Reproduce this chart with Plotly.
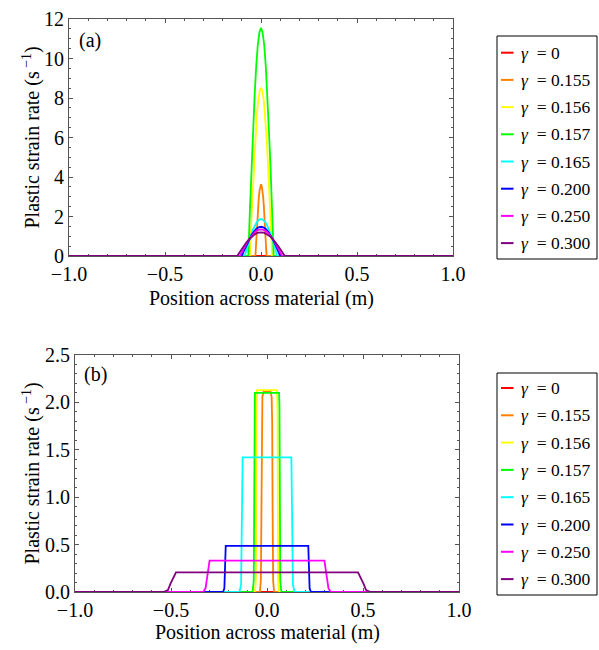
import plotly.graph_objects as go

W, H = 599, 650

# ---------------- data ----------------
gamma_labels = ["0", "0.155", "0.156", "0.157", "0.165", "0.200", "0.250", "0.300"]
colors = ["#ff0000", "#ff8000", "#ffff00", "#00ff00", "#00ffff", "#0000ff", "#ff00ff", "#800080"]

# panel (a)
a_x_000 = [-1.0, 1.0]
a_y_000 = [0.0, 0.0]
a_x_155 = [-1.0, -0.029, -0.025, -0.022, -0.018, -0.0145, -0.011, -0.007, -0.0036, 0.0,
           0.0036, 0.007, 0.011, 0.0145, 0.018, 0.022, 0.025, 0.029, 1.0]
a_y_155 = [0, 0, 0.71, 1.39, 2.02, 2.57, 3.02, 3.35, 3.56, 3.63,
           3.56, 3.35, 3.02, 2.57, 2.02, 1.39, 0.71, 0, 0]
a_x_156 = [-1.0, -0.058, -0.051, -0.0435, -0.036, -0.029, -0.022, -0.0145, -0.007, 0.0,
           0.007, 0.0145, 0.022, 0.029, 0.036, 0.0435, 0.051, 0.058, 1.0]
a_y_156 = [0, 0, 1.66, 3.26, 4.74, 6.02, 7.08, 7.87, 8.36, 8.52,
           8.36, 7.87, 7.08, 6.02, 4.74, 3.26, 1.66, 0, 0]
a_x_157 = [-1.0, -0.066, -0.058, -0.050, -0.041, -0.033, -0.025, -0.017, -0.008, 0.0,
           0.008, 0.017, 0.025, 0.033, 0.041, 0.050, 0.058, 0.066, 1.0]
a_y_157 = [0, 0, 2.25, 4.42, 6.42, 8.17, 9.60, 10.67, 11.33, 11.55,
           11.33, 10.67, 9.60, 8.17, 6.42, 4.42, 2.25, 0, 0]
a_x_165 = [-1.0, -0.085, -0.074, -0.064, -0.053, -0.0425, -0.032, -0.021, -0.011, 0.0,
           0.011, 0.021, 0.032, 0.0425, 0.053, 0.064, 0.074, 0.085, 1.0]
a_y_165 = [0, 0, 0.36, 0.72, 1.04, 1.32, 1.55, 1.73, 1.83, 1.87,
           1.83, 1.73, 1.55, 1.32, 1.04, 0.72, 0.36, 0, 0]
a_x_200 = [-1.0, -0.10, -0.0875, -0.075, -0.0625, -0.05, -0.0375, -0.025, -0.0125, 0.0,
           0.0125, 0.025, 0.0375, 0.05, 0.0625, 0.075, 0.0875, 0.10, 1.0]
a_y_200 = [0, 0, 0.29, 0.57, 0.82, 1.05, 1.23, 1.37, 1.45, 1.48,
           1.45, 1.37, 1.23, 1.05, 0.82, 0.57, 0.29, 0, 0]
a_x_250 = [-1.0, -0.11, -0.096, -0.0825, -0.069, -0.055, -0.041, -0.0275, -0.014, 0.0,
           0.014, 0.0275, 0.041, 0.055, 0.069, 0.0825, 0.096, 0.11, 1.0]
a_y_250 = [0, 0, 0.26, 0.52, 0.75, 0.95, 1.12, 1.25, 1.32, 1.35,
           1.32, 1.25, 1.12, 0.95, 0.75, 0.52, 0.26, 0, 0]
a_x_300 = [-1.0, -0.124, -0.1085, -0.093, -0.0775, -0.062, -0.0465, -0.031, -0.0155, 0.0,
           0.0155, 0.031, 0.0465, 0.062, 0.0775, 0.093, 0.1085, 0.124, 1.0]
a_y_300 = [0, 0, 0.23, 0.46, 0.67, 0.85, 1.00, 1.11, 1.18, 1.20,
           1.18, 1.11, 1.00, 0.85, 0.67, 0.46, 0.23, 0, 0]

# panel (b)
b_x_000 = [-1.0, 1.0]
b_y_000 = [0.0, 0.0]
b_x_155 = [-1.0, -0.037, -0.032, -0.029, -0.027, -0.024, -0.018, 0.0,
           0.018, 0.024, 0.027, 0.029, 0.032, 0.037, 1.0]
b_y_155 = [0, 0, 0.12, 0.9, 1.8, 2.06, 2.11, 2.11,
           2.11, 2.06, 1.8, 0.9, 0.12, 0, 0]
b_x_156 = [-1.0, -0.063, -0.058, -0.055, -0.052, 0.052, 0.055, 0.058, 0.063, 1.0]
b_y_156 = [0, 0, 0.12, 1.9, 2.13, 2.13, 1.9, 0.12, 0, 0]
b_x_157 = [-1.0, -0.075, -0.069, -0.065, -0.063, 0.063, 0.065, 0.069, 0.075, 1.0]
b_y_157 = [0, 0, 0.12, 1.95, 2.10, 2.10, 1.95, 0.12, 0, 0]
b_x_165 = [-1.0, -0.143, -0.135, -0.127, 0.127, 0.135, 0.143, 1.0]
b_y_165 = [0, 0, 0.08, 1.42, 1.42, 0.08, 0, 0]
b_x_200 = [-1.0, -0.229, -0.222, -0.215, 0.215, 0.222, 0.229, 1.0]
b_y_200 = [0, 0, 0.04, 0.487, 0.487, 0.04, 0, 0]
b_x_250 = [-1.0, -0.332, -0.32, -0.299, 0.299, 0.32, 0.332, 1.0]
b_y_250 = [0, 0, 0.04, 0.33, 0.33, 0.04, 0, 0]
b_x_300 = [-1.0, -0.54, -0.516, -0.502, -0.474, 0.474, 0.502, 0.516, 0.54, 1.0]
b_y_300 = [0, 0, 0.02, 0.09, 0.207, 0.207, 0.09, 0.02, 0, 0]

a_series = [(a_x_000, a_y_000), (a_x_155, a_y_155), (a_x_156, a_y_156), (a_x_157, a_y_157),
            (a_x_165, a_y_165), (a_x_200, a_y_200), (a_x_250, a_y_250), (a_x_300, a_y_300)]
b_series = [(b_x_000, b_y_000), (b_x_155, b_y_155), (b_x_156, b_y_156), (b_x_157, b_y_157),
            (b_x_165, b_y_165), (b_x_200, b_y_200), (b_x_250, b_y_250), (b_x_300, b_y_300)]

x_ticks = [-1.0, -0.5, 0.0, 0.5, 1.0]
a_y_ticks = [0, 2, 4, 6, 8, 10, 12]
b_y_ticks = [0.0, 0.5, 1.0, 1.5, 2.0, 2.5]

# ---------------- figure ----------------
FONT = "Liberation Serif"
fig = go.Figure()

for i, (xs, ys) in enumerate(a_series):
    fig.add_trace(go.Scatter(x=xs, y=ys, mode="lines", xaxis="x", yaxis="y",
                             line=dict(color=colors[i], width=1.8),
                             name="γ = " + gamma_labels[i], showlegend=False))
for i, (xs, ys) in enumerate(b_series):
    fig.add_trace(go.Scatter(x=xs, y=ys, mode="lines", xaxis="x2", yaxis="y2",
                             line=dict(color=colors[i], width=1.8),
                             name="γ = " + gamma_labels[i], showlegend=False))

def px_x(p):
    return p / W

def px_y(p):
    return 1 - p / H

AXIS_COL = "#555555"
common = dict(showline=True, linecolor=AXIS_COL, linewidth=1, mirror="ticks",
              ticks="inside", ticklen=4, tickcolor=AXIS_COL, tickwidth=1,
              showgrid=False, zeroline=False, layer="below traces", automargin=False,
              tickfont=dict(family=FONT, size=20, color="black"))

fig.update_layout(
    template="none",
    width=W, height=H, margin=dict(l=0, r=0, t=0, b=0, pad=0),
    paper_bgcolor="white", plot_bgcolor="white", showlegend=False,
    xaxis=dict(domain=[px_x(69), px_x(453)], range=[-1, 1], anchor="y",
               tickvals=x_ticks, tickformat=".1f",
               minor=dict(dtick=0.1, tick0=0, ticklen=2, tickcolor=AXIS_COL, ticks="inside"),
               **common),
    yaxis=dict(domain=[px_y(256), px_y(19)], range=[0, 12], anchor="x",
               tickvals=a_y_ticks, tickformat="d",
               minor=dict(dtick=0.5, tick0=0, ticklen=2, tickcolor=AXIS_COL, ticks="inside"),
               **common),
    xaxis2=dict(domain=[px_x(75), px_x(459)], range=[-1, 1], anchor="y2",
                tickvals=x_ticks, tickformat=".1f",
                minor=dict(dtick=0.1, tick0=0, ticklen=2, tickcolor=AXIS_COL, ticks="inside"),
                **common),
    yaxis2=dict(domain=[px_y(592), px_y(355)], range=[0, 2.5], anchor="x2",
                tickvals=b_y_ticks, tickformat=".1f",
                minor=dict(dtick=0.1, tick0=0, ticklen=2, tickcolor=AXIS_COL, ticks="inside"),
                **common),
)

ann = []
shapes = []
tfont = dict(family=FONT, size=20, color="black")

# axis titles
for (xc, yc_title, yc_xt) in [(261, 137.5, 298), (267, 473.5, 632)]:
    ann.append(dict(x=px_x(xc), y=px_y(yc_xt), xref="paper", yref="paper",
                    text="Position across material (m)", showarrow=False,
                    font=tfont, xanchor="center", yanchor="middle"))
    ann.append(dict(x=px_x(31), y=px_y(yc_title), xref="paper", yref="paper",
                    text="Plastic strain rate (s<sup> −1</sup>)", showarrow=False,
                    textangle=-90, font=tfont, xanchor="center", yanchor="middle"))

# panel labels
ann.append(dict(x=px_x(77), y=px_y(40), xref="paper", yref="paper", text="(a)",
                showarrow=False, font=tfont, xanchor="left", yanchor="middle"))
ann.append(dict(x=px_x(82), y=px_y(375), xref="paper", yref="paper", text="(b)",
                showarrow=False, font=tfont, xanchor="left", yanchor="middle"))

# manual legends
lfont = dict(family=FONT, size=17.5, color="black")
for (box_top, box_bot, first, step) in [(36, 259, 52.7, 27.2), (373, 595, 388, 27.3)]:
    shapes.append(dict(type="rect", xref="paper", yref="paper",
                       x0=px_x(497), x1=px_x(597), y0=px_y(box_bot), y1=px_y(box_top),
                       line=dict(color="black", width=1), fillcolor="white"))
    for i, g in enumerate(gamma_labels):
        yc = first + step * i
        shapes.append(dict(type="line", xref="paper", yref="paper",
                           x0=px_x(501), x1=px_x(513.5), y0=px_y(yc), y1=px_y(yc),
                           line=dict(color=colors[i], width=2)))
        ann.append(dict(x=px_x(519), y=px_y(yc), xref="paper", yref="paper",
                        text="<i>γ</i>\u2002= " + g, showarrow=False, font=lfont,
                        xanchor="left", yanchor="middle"))

fig.update_layout(annotations=ann, shapes=shapes)
fig.write_html("out.html", config={"displayModeBar": False},
               post_script="document.body.style.margin='0';document.body.style.overflow='hidden';")
